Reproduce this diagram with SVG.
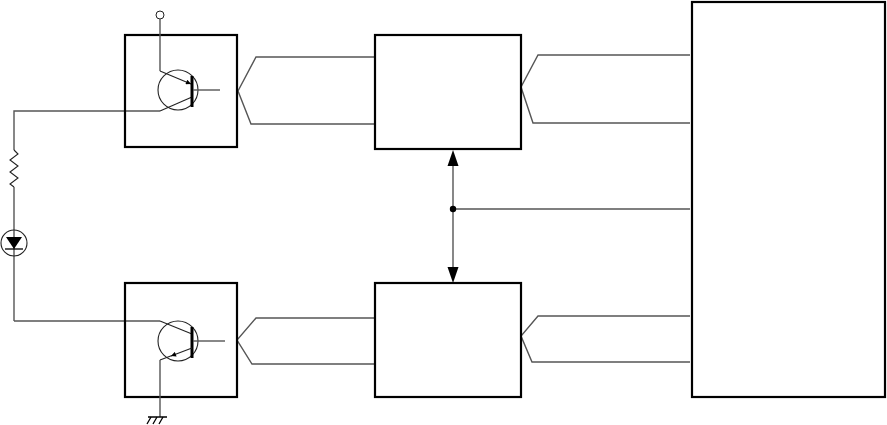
<svg xmlns="http://www.w3.org/2000/svg" width="887" height="425" viewBox="0 0 887 425">
<style>
.box{fill:none;stroke:#000;stroke-width:2.2}
.w{fill:none;stroke:#555;stroke-width:1.4}
.t{fill:none;stroke:#222;stroke-width:1.1}
.bar{stroke:#000;stroke-width:3}
</style>
<defs>
<marker id="sa" viewBox="0 0 10 10" refX="10" refY="5" markerWidth="7" markerHeight="5" markerUnits="userSpaceOnUse" orient="auto">
<path d="M0,0 L10,5 L0,10 Z" fill="#000"/>
</marker>
</defs>
<rect width="887" height="425" fill="#fff"/>
<g id="connectors">
<polyline class="w" points="375,57 256,57 238,91 251,124 375,124"/>
<polyline class="w" points="690,55 538,55 521,87 533,123 690,123"/>
<polyline class="w" points="375,318 256,318 237,340 252,364 375,364"/>
<polyline class="w" points="690,316 538,316 521,336 532,362 690,362"/>
<line class="w" x1="453" y1="209" x2="690" y2="209"/>
<line x1="453" y1="165" x2="453" y2="267" stroke="#555" stroke-width="1.4"/>
<path d="M453,150 L447.5,166 L458.5,166 Z" fill="#000"/>
<path d="M453,283 L447.5,267 L458.5,267 Z" fill="#000"/>
<circle cx="453" cy="209" r="3.2" fill="#000"/>
<polyline class="w" points="160,111 14,111 14,150"/>
<polyline class="t" points="14,150 18,154 10,160 18,166 10,172 18,178 10,184 14,187"/>
<line class="w" x1="14" y1="187" x2="14" y2="321"/>
<polyline class="w" points="14,321 160,321"/>
</g>
<g id="diode">
<circle class="t" cx="14" cy="243" r="13"/>
<path d="M6,237 L22,237 L14,249 Z" fill="#000"/>
<line x1="5" y1="249" x2="23" y2="249" stroke="#000" stroke-width="1.3"/>
</g>
<g id="optoTop">
<rect class="box" x="125" y="35" width="112" height="112"/>
<circle cx="160" cy="15" r="4" fill="#fff" stroke="#222" stroke-width="1"/>
<circle class="t" cx="178" cy="90" r="20"/>
<polyline class="w" points="160,19 160,71"/>
<line class="t" x1="160" y1="71" x2="191" y2="84" marker-end="url(#sa)"/>
<polyline class="t" points="160,111 192,97"/>
<line class="bar" x1="192" y1="76" x2="192" y2="107"/>
<line class="w" x1="193" y1="90" x2="220" y2="90"/>
</g>
<g id="optoBottom">
<rect class="box" x="125" y="283" width="112" height="114"/>
<circle class="t" cx="178" cy="341" r="20"/>
<polyline class="t" points="160,321 192,334"/>
<line class="bar" x1="192" y1="327" x2="192" y2="358"/>
<line class="w" x1="193" y1="341" x2="225" y2="341"/>
<line class="t" x1="192" y1="348" x2="171" y2="356" marker-end="url(#sa)"/>
<polyline class="t" points="172,355.5 160,360"/>
<line class="w" x1="160" y1="360" x2="160" y2="417"/>
<line x1="148" y1="417" x2="167" y2="417" stroke="#000" stroke-width="1.5"/>
<path d="M151,417 L147,424 M157,417 L153,424 M163,417 L159,424" stroke="#000" stroke-width="1.3" fill="none"/>
</g>
<g id="ctrlTop"><rect class="box" x="375" y="35" width="146" height="114"/></g>
<g id="ctrlBottom"><rect class="box" x="375" y="283" width="146" height="114"/></g>
<g id="mainUnit"><rect class="box" x="692" y="2" width="193" height="395"/></g>
</svg>
